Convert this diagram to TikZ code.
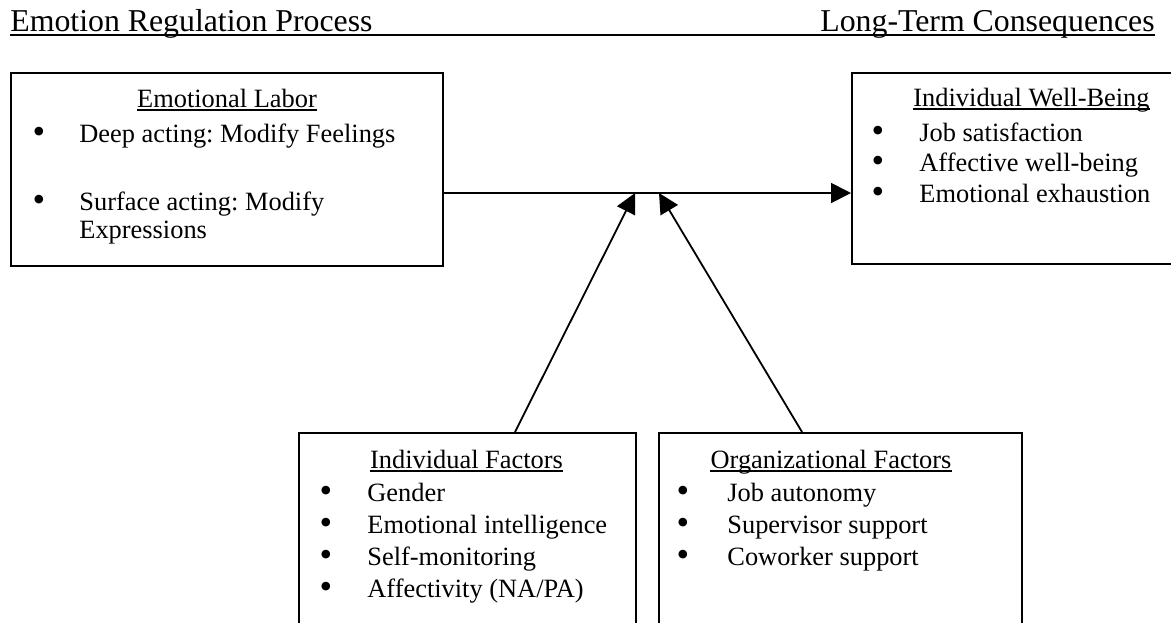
\documentclass[tikz,border=0pt]{standalone}
\usepackage{fontspec}
\setmainfont{Liberation Serif}
\frenchspacing
\usetikzlibrary{arrows.meta,fit,calc}
\begin{document}
\begin{tikzpicture}[x=0.5pt,y=-0.5pt,
  box/.style={draw,line width=1pt,inner sep=0,rectangle},
  txt/.style={inner sep=0,anchor=base west,font=\fontsize{13.2}{15}\selectfont},
  ttl/.style={inner sep=0,anchor=base,font=\fontsize{13.2}{15}\selectfont},
  hdr/.style={inner sep=0,font=\fontsize{15.9}{18}\selectfont},
  bul/.style={inner sep=0,anchor=base,font=\fontsize{18}{18}\selectfont},
  ul/.style={line width=0.7pt},
  arr/.style={line width=0.9pt,-{Triangle[length=10pt,width=10pt]}}]
\clip (0,0) rectangle (1171,622);
\fill[white] (0,0) rectangle (1171,622);
% header
\node[hdr,anchor=base west] (h1) at (10,31) {Emotion Regulation Process};
\node[hdr,anchor=base east] (h2) at (1155,31) {Long-Term Consequences};
\draw[ul] ($(h1.base west)+(0,4)$) -- ($(h2.base east)+(0,4)$);
% boxes
\node[box,fit={(11,73)(443,266)}] (el) {};
\node[box,fit={(852,73)(1211,264)}] (wb) {};
\node[box,fit={(299,433)(636,660)}] (indf) {};
\node[box,fit={(659,433)(1022,660)}] (orgf) {};
% Emotional Labor
\node[ttl] (elt) at (227,107) {Emotional Labor};
\draw[ul] ($(elt.base west)+(0,3)$) -- ($(elt.base east)+(0,3)$);
\node[bul] (elb1) at (39,143) {•};
\node[txt] (el1) at (79,142) {Deep acting: Modify Feelings};
\node[bul] (elb2) at (39,211) {•};
\node[txt] (el2) at (79,210) {Surface acting: Modify};
\node[txt] (el3) at (79,238) {Expressions};
% Individual Well-Being
\node[ttl] (wbt) at (1031.5,106) {Individual Well-Being};
\draw[ul] ($(wbt.base west)+(0,3)$) -- ($(wbt.base east)+(0,3)$);
\node[bul] (wbb1) at (878,142) {•};
\node[txt] (wb1) at (919,141) {Job satisfaction};
\node[bul] (wbb2) at (878,172.5) {•};
\node[txt] (wb2) at (919,171.5) {Affective well-being};
\node[bul] (wbb3) at (878,203) {•};
\node[txt] (wb3) at (919,202) {Emotional exhaustion};
% Individual Factors
\node[ttl] (ift) at (466.5,468) {Individual Factors};
\draw[ul] ($(ift.base west)+(0,3)$) -- ($(ift.base east)+(0,3)$);
\node[bul] (ifb1) at (326,502) {•};
\node[txt] (if1) at (367,501) {Gender};
\node[bul] (ifb2) at (326,534) {•};
\node[txt] (if2) at (367,533) {Emotional intelligence};
\node[bul] (ifb3) at (326,566) {•};
\node[txt] (if3) at (367,565) {Self-monitoring};
\node[bul] (ifb4) at (326,598) {•};
\node[txt] (if4) at (367,597) {Affectivity (NA/PA)};
% Organizational Factors
\node[ttl] (oft) at (831,468) {Organizational Factors};
\draw[ul] ($(oft.base west)+(0,3)$) -- ($(oft.base east)+(0,3)$);
\node[bul] (ofb1) at (683,502) {•};
\node[txt] (of1) at (727,501) {Job autonomy};
\node[bul] (ofb2) at (683,534) {•};
\node[txt] (of2) at (727,533) {Supervisor support};
\node[bul] (ofb3) at (683,566) {•};
\node[txt] (of3) at (727,565) {Coworker support};
% connectors
\coordinate (m) at (647,193);
\coordinate (t1) at (635,193);
\coordinate (t2) at (659,193);
\draw[arr] (el.east |- m) -- (wb.west |- m);
\draw[arr] ([xshift=23.75pt]indf.north) -- (t1);
\draw[arr] ([xshift=-19.25pt]orgf.north) -- (t2);
\end{tikzpicture}
\end{document}
